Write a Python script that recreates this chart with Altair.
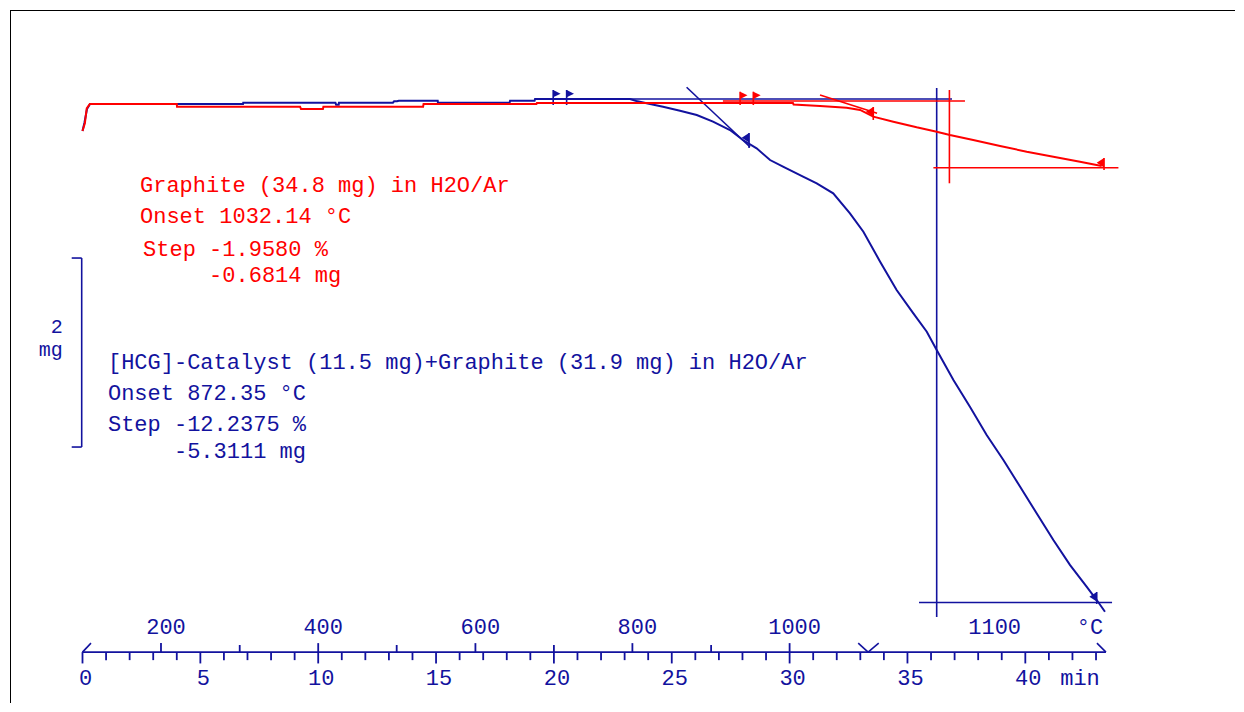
import altair as alt
import pandas as pd

BLUE = "#12129e"
RED = "#ff0000"
FONT = "Liberation Mono"

# ---------------- data ----------------
# time in min, mass change in mg (relative to start)
blue_t = [0.00, 0.08, 0.19, 0.32, 6.81, 6.82, 10.73, 10.76, 10.87, 10.88, 13.17, 13.22,
          13.34, 13.42, 15.07, 15.08, 18.12, 18.14, 19.18, 19.20, 23.23, 23.50, 24.08,
          24.63, 25.35, 26.06, 26.75, 27.47, 28.02, 28.60, 29.17, 29.72, 30.57, 31.15,
          31.85, 32.56, 33.13, 33.84, 34.54, 35.25, 35.82, 36.24, 36.95, 37.65, 38.36,
          39.07, 39.78, 40.48, 41.19, 41.90, 42.60, 43.03, 43.38]
blue_m = [-0.286, -0.201, -0.053, 0.000, 0.000, 0.014, 0.014, -0.007, -0.007, 0.014, 0.014,
          0.029, 0.029, 0.035, 0.035, 0.014, 0.014, 0.035, 0.035, 0.053, 0.053, 0.032, 0.000,
          -0.029, -0.071, -0.116, -0.187, -0.275, -0.381, -0.469, -0.593, -0.663, -0.769,
          -0.839, -0.945, -1.157, -1.351, -1.669, -1.968, -2.215, -2.410, -2.603, -2.921,
          -3.203, -3.503, -3.767, -4.050, -4.331, -4.614, -4.880, -5.108, -5.249, -5.373]

red_t = [0.00, 0.10, 0.18, 0.31, 4.00, 4.01, 9.23, 9.27, 10.20, 10.22, 14.45, 14.47, 19.26,
         19.28, 30.14, 30.17, 31.29, 32.42, 32.99, 33.55, 34.40, 35.39, 36.24, 36.80, 37.79,
         38.93, 40.06, 41.19, 42.32, 43.24]
red_m = [-0.286, -0.204, -0.046, 0.000, 0.000, -0.029, -0.029, -0.053, -0.053, -0.029,
         -0.029, 0.000, 0.000, 0.011, 0.011, -0.005, -0.021, -0.039, -0.063, -0.134, -0.187,
         -0.247, -0.293, -0.328, -0.381, -0.444, -0.505, -0.558, -0.611, -0.656]

# evaluation construction lines (baseline, tangent, vertical, end level)
blue_lines_t1 = [19.20, 25.63, 36.24, 35.49]
blue_lines_m1 = [0.053, 0.177, 0.169, -5.275]
blue_lines_t2 = [36.89, 28.32, 36.24, 43.68]
blue_lines_m2 = [0.053, -0.455, -5.429, -5.275]
red_lines_t1 = [27.17, 31.29, 36.78, 36.10]
red_lines_m1 = [0.032, 0.095, 0.148, -0.674]
red_lines_t2 = [37.44, 33.71, 36.78, 43.95]
red_lines_m2 = [0.032, -0.098, -0.839, -0.674]

# evaluation flags
blue_flag_t = [19.97, 20.54, 28.28, 43.03]
blue_flag_top = [0.148, 0.148, -0.307, -5.164]
blue_flag_bot = [-0.011, -0.011, -0.466, -5.291]
blue_flag_dir = ["right", "right", "left", "left"]
red_flag_t = [27.90, 28.46, 33.55, 43.34]
red_flag_top = [0.130, 0.130, -0.032, -0.571]
red_flag_bot = [-0.011, -0.011, -0.169, -0.698]
red_flag_dir = ["right", "right", "left", "left"]

# annotation texts
red_text = ["Graphite (34.8 mg) in H2O/Ar", "Onset 1032.14 °C", "Step -1.9580 %", "-0.6814 mg"]
red_text_t = [2.44, 2.44, 2.57, 5.37]
red_text_m = [-0.931, -1.259, -1.608, -1.884]
blue_text = ["[HCG]-Catalyst (11.5 mg)+Graphite (31.9 mg) in H2O/Ar", "Onset 872.35 °C",
             "Step -12.2375 %", "-5.3111 mg"]
blue_text_t = [1.08, 1.08, 1.08, 3.88]
blue_text_m = [-2.804, -3.132, -3.460, -3.746]

# time axis (min) and temperature axis (°C)
minute_ticks = list(range(0, 44))
minute_labels = [0, 5, 10, 15, 20, 25, 30, 35, 40]
temp_values = [200, 300, 400, 500, 600, 700, 800, 900, 1000]
temp_times = [3.33, 6.67, 10.0, 13.33, 16.67, 20.0, 23.33, 26.67, 30.0]
temp_labelled = [200, 400, 600, 800, 1000]
iso_label, iso_label_t = "1100", 38.7
heating_end_t = 33.33
axis_end_t = 43.42

# scale bar: 2 mg
bar_mg = 2.0
bar_top = -1.63

# ---------------- layout (scales) ----------------
W, H = 1222, 690
T_MIN, T_MAX = -3.0759, 48.769
M_MIN, M_MAX = -6.3069, 0.9947
AXIS_M = -5.80

xs = alt.Scale(domain=[T_MIN, T_MAX], nice=False, zero=False)
ys = alt.Scale(domain=[M_MIN, M_MAX], nice=False, zero=False)
X = lambda f: alt.X(f, type="quantitative", scale=xs, axis=None)
Y = lambda f: alt.Y(f, type="quantitative", scale=ys, axis=None)

# curves
curves = pd.DataFrame(
    [{"t": t, "m": m, "s": "blue", "i": i} for i, (t, m) in enumerate(zip(blue_t, blue_m))]
    + [{"t": t, "m": m, "s": "red", "i": i} for i, (t, m) in enumerate(zip(red_t, red_m))]
)

# segments
segs = []
for a, b, c, d in zip(blue_lines_t1, blue_lines_m1, blue_lines_t2, blue_lines_m2):
    segs.append(dict(t=a, m=b, t2=c, m2=d, c=BLUE, w=1.6))
for a, b, c, d in zip(red_lines_t1, red_lines_m1, red_lines_t2, red_lines_m2):
    segs.append(dict(t=a, m=b, t2=c, m2=d, c=RED, w=1.6))
for t, a, b in zip(blue_flag_t, blue_flag_top, blue_flag_bot):
    segs.append(dict(t=t, m=a, t2=t, m2=b, c=BLUE, w=1.6))
for t, a, b in zip(red_flag_t, red_flag_top, red_flag_bot):
    segs.append(dict(t=t, m=a, t2=t, m2=b, c=RED, w=1.6))
# axis line and ticks
segs.append(dict(t=0, m=AXIS_M, t2=axis_end_t, m2=AXIS_M, c=BLUE, w=1.8))
for t in minute_ticks:
    segs.append(dict(t=t, m=AXIS_M, t2=t, m2=AXIS_M - (0.12 if t % 5 == 0 else 0.085), c=BLUE, w=1.8))
for v, t in zip(temp_values, temp_times):
    segs.append(dict(t=t, m=AXIS_M, t2=t, m2=AXIS_M + (0.095 if v in temp_labelled else 0.075), c=BLUE, w=1.8))
# segment markers on the axis
segs.append(dict(t=0, m=AXIS_M, t2=0.36, m2=AXIS_M + 0.095, c=BLUE, w=1.6))
segs.append(dict(t=heating_end_t - 0.42, m=AXIS_M + 0.095, t2=heating_end_t, m2=AXIS_M, c=BLUE, w=1.6))
segs.append(dict(t=heating_end_t, m=AXIS_M, t2=heating_end_t + 0.45, m2=AXIS_M + 0.095, c=BLUE, w=1.6))
segs.append(dict(t=axis_end_t - 0.38, m=AXIS_M + 0.095, t2=axis_end_t, m2=AXIS_M, c=BLUE, w=1.6))
# scale bar
segs.append(dict(t=-0.034, m=bar_top, t2=-0.034, m2=bar_top - bar_mg, c=BLUE, w=1.6))
segs.append(dict(t=-0.458, m=bar_top, t2=-0.034, m2=bar_top, c=BLUE, w=1.6))
segs.append(dict(t=-0.458, m=bar_top - bar_mg, t2=-0.034, m2=bar_top - bar_mg, c=BLUE, w=1.6))
segs = pd.DataFrame(segs)

flags = pd.DataFrame(
    [dict(t=t, m=m, c=BLUE, d=d) for t, m, d in zip(blue_flag_t, blue_flag_top, blue_flag_dir)]
    + [dict(t=t, m=m, c=RED, d=d) for t, m, d in zip(red_flag_t, red_flag_top, red_flag_dir)]
)

texts = pd.DataFrame(
    [dict(t=t, m=m, txt=s, c=RED) for s, t, m in zip(red_text, red_text_t, red_text_m)]
    + [dict(t=t, m=m, txt=s, c=BLUE) for s, t, m in zip(blue_text, blue_text_t, blue_text_m)]
)

min_lab = pd.DataFrame(dict(t=minute_labels, m=[-6.148] * len(minute_labels),
                            txt=[str(v) for v in minute_labels]))
temp_lab = pd.DataFrame(dict(t=[t for v, t in zip(temp_values, temp_times) if v in temp_labelled],
                             m=[-5.608] * len(temp_labelled),
                             txt=[str(v) for v in temp_labelled]))
extra_lab = pd.DataFrame(dict(t=[iso_label_t, 42.74, 42.32], m=[-5.608, -5.608, -6.148],
                              txt=[iso_label, "°C", "min"]))
bar_lab = pd.DataFrame(dict(t=[-0.84, -0.84], m=[-2.423, -2.667], txt=["2", "mg"]))

col = alt.Color("c:N", scale=None)

line_layer = alt.Chart(curves).mark_line(strokeWidth=2).encode(
    x=X("t"), y=Y("m"), order="i:Q",
    color=alt.Color("s:N", scale=alt.Scale(domain=["blue", "red"], range=[BLUE, RED]), legend=None),
)
rule_layer = alt.Chart(segs).mark_rule().encode(
    x=X("t"), y=Y("m"), x2="t2", y2="m2", color=col, size=alt.Size("w:Q", scale=None)
)
flag_r = alt.Chart(flags[flags.d == "right"]).mark_point(
    shape="M0,0L0.85,0.42L0,0.85Z", size=300, filled=True, opacity=1, strokeWidth=0
).encode(x=X("t"), y=Y("m"), color=col)
flag_l = alt.Chart(flags[flags.d == "left"]).mark_point(
    shape="M0,0L-0.85,0.55L0,1.1Z", size=300, filled=True, opacity=1, strokeWidth=0
).encode(x=X("t"), y=Y("m"), color=col)

text_layer = alt.Chart(texts).mark_text(
    align="left", baseline="alphabetic", font=FONT, fontSize=22
).encode(x=X("t"), y=Y("m"), text="txt:N", color=col)
min_layer = alt.Chart(min_lab).mark_text(
    align="center", baseline="alphabetic", font=FONT, fontSize=22, dx=3, color=BLUE
).encode(x=X("t"), y=Y("m"), text="txt:N")
temp_layer = alt.Chart(temp_lab).mark_text(
    align="center", baseline="alphabetic", font=FONT, fontSize=22, dx=5, color=BLUE
).encode(x=X("t"), y=Y("m"), text="txt:N")
extra_layer = alt.Chart(extra_lab).mark_text(
    align="center", baseline="alphabetic", font=FONT, fontSize=22, color=BLUE
).encode(x=X("t"), y=Y("m"), text="txt:N")
bar_layer = alt.Chart(bar_lab).mark_text(
    align="right", baseline="alphabetic", font=FONT, fontSize=20, color=BLUE
).encode(x=X("t"), y=Y("m"), text="txt:N")

frame_top = alt.Chart(pd.DataFrame({"k": [0]})).mark_rule(color="black", strokeWidth=1).encode(
    x=alt.value(0), x2=alt.value(W + 4), y=alt.value(0.5))
frame_left = alt.Chart(pd.DataFrame({"k": [0]})).mark_rule(color="black", strokeWidth=1).encode(
    x=alt.value(0.5), y=alt.value(0), y2=alt.value(H + 4))

chart = alt.layer(
    frame_top, frame_left, rule_layer, line_layer, flag_r, flag_l,
    text_layer, min_layer, temp_layer, extra_layer, bar_layer
).properties(
    width=W, height=H, autosize="none",
    padding={"left": 2, "top": 2, "right": 3, "bottom": 3},
    background="white",
).configure_view(strokeWidth=0)

chart.save("out.html", embed_options={"renderer": "svg", "actions": False})
